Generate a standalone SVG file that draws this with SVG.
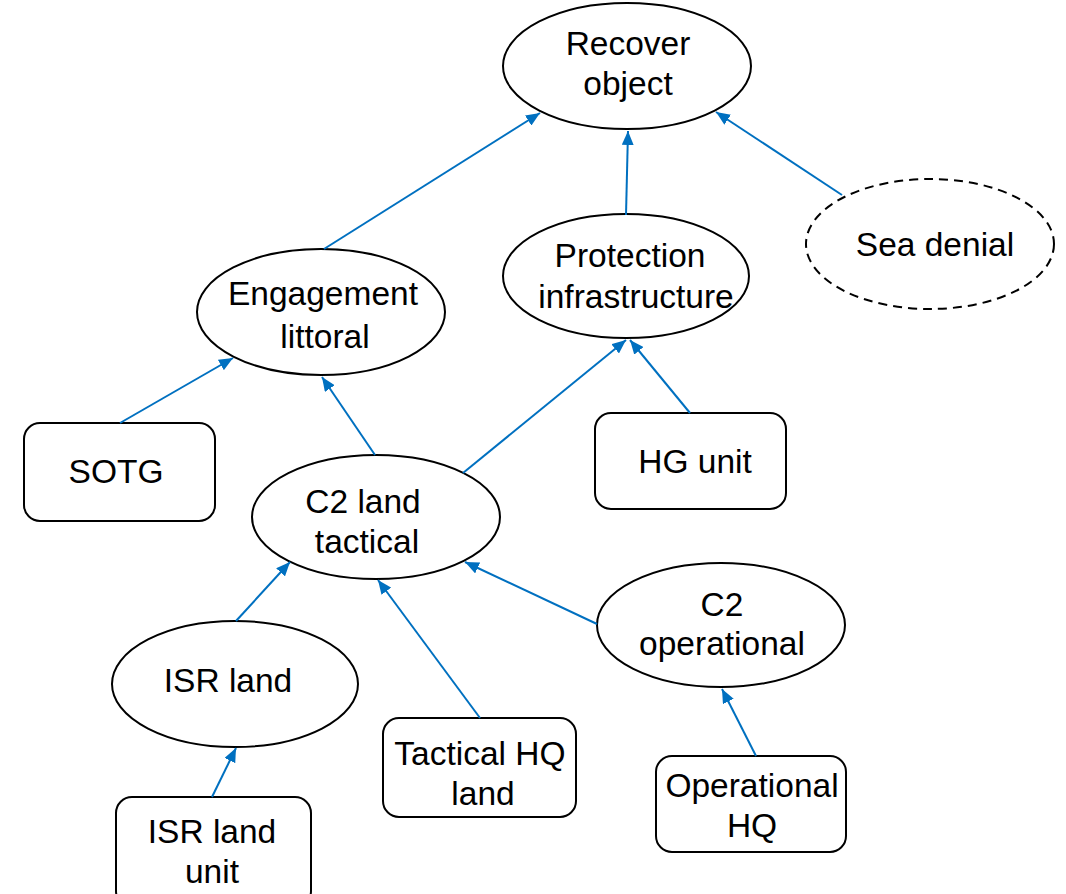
<svg xmlns="http://www.w3.org/2000/svg" width="1066" height="894" viewBox="0 0 1066 894">
<defs>
<style>
.n{fill:#fff;stroke:#000;stroke-width:2}
.d{stroke-dasharray:9 6}
.t{font-family:"Liberation Sans",Arial,sans-serif;font-size:33.5px;fill:#000;text-anchor:middle}
.c{stroke:#0070C0;stroke-width:2;fill:none;marker-end:url(#a)}
</style>
<marker id="a" viewBox="0 0 14 12" refX="14" refY="6" markerWidth="14" markerHeight="12" markerUnits="userSpaceOnUse" orient="auto"><path d="M0,0L14,6L0,12z" fill="#0070C0"/></marker>
</defs>
<rect width="1066" height="894" fill="#fff"/>
<g id="recover"><ellipse class="n" cx="627" cy="66" rx="124" ry="63"/><text class="t" x="628" y="55">Recover</text><text class="t" x="628" y="95">object</text></g>
<g id="seadenial"><ellipse class="n d" cx="930" cy="244" rx="124" ry="65"/><text class="t" x="935" y="256">Sea denial</text></g>
<g id="protection"><ellipse class="n" cx="626" cy="276" rx="123" ry="62"/><text class="t" x="630" y="267">Protection</text><text class="t" x="636" y="308">infrastructure</text></g>
<g id="engagement"><ellipse class="n" cx="321" cy="312" rx="124" ry="63"/><text class="t" x="323" y="305">Engagement</text><text class="t" x="325" y="348">littoral</text></g>
<g id="sotg"><rect class="n" x="24" y="423" width="191" height="98" rx="16"/><text class="t" x="116" y="483">SOTG</text></g>
<g id="hgunit"><rect class="n" x="595" y="413" width="191" height="96" rx="16"/><text class="t" x="695" y="473">HG unit</text></g>
<g id="c2land"><ellipse class="n" cx="376" cy="517" rx="124" ry="62"/><text class="t" x="363" y="513">C2 land</text><text class="t" x="367" y="553">tactical</text></g>
<g id="c2op"><ellipse class="n" cx="721" cy="625" rx="124" ry="62"/><text class="t" x="722" y="616">C2</text><text class="t" x="722" y="655">operational</text></g>
<g id="isrland"><ellipse class="n" cx="235" cy="684" rx="123" ry="63"/><text class="t" x="228" y="692">ISR land</text></g>
<g id="tacticalhq"><rect class="n" x="383" y="718" width="193" height="99" rx="16"/><text class="t" x="480" y="765">Tactical HQ</text><text class="t" x="483" y="805">land</text></g>
<g id="operationalhq"><rect class="n" x="656" y="756" width="190" height="96" rx="16"/><text class="t" x="752" y="797">Operational</text><text class="t" x="752" y="837">HQ</text></g>
<g id="isrlandunit"><rect class="n" x="116" y="797" width="195" height="110" rx="16"/><text class="t" x="212" y="843">ISR land</text><text class="t" x="212" y="883">unit</text></g>
<g id="connectors">
<line class="c" x1="324" y1="249" x2="540" y2="113"/>
<line class="c" x1="626" y1="215" x2="628" y2="131"/>
<line class="c" x1="842" y1="195" x2="716" y2="112"/>
<line class="c" x1="120" y1="423" x2="233" y2="358"/>
<line class="c" x1="375" y1="455" x2="322" y2="377"/>
<line class="c" x1="463" y1="473" x2="626" y2="340"/>
<line class="c" x1="690" y1="413" x2="630" y2="340"/>
<line class="c" x1="236" y1="621" x2="290" y2="562"/>
<line class="c" x1="480" y1="718" x2="378" y2="580"/>
<line class="c" x1="597" y1="624" x2="465" y2="562"/>
<line class="c" x1="212" y1="797" x2="236" y2="748"/>
<line class="c" x1="756" y1="756" x2="722" y2="689"/>
</g>
</svg>
